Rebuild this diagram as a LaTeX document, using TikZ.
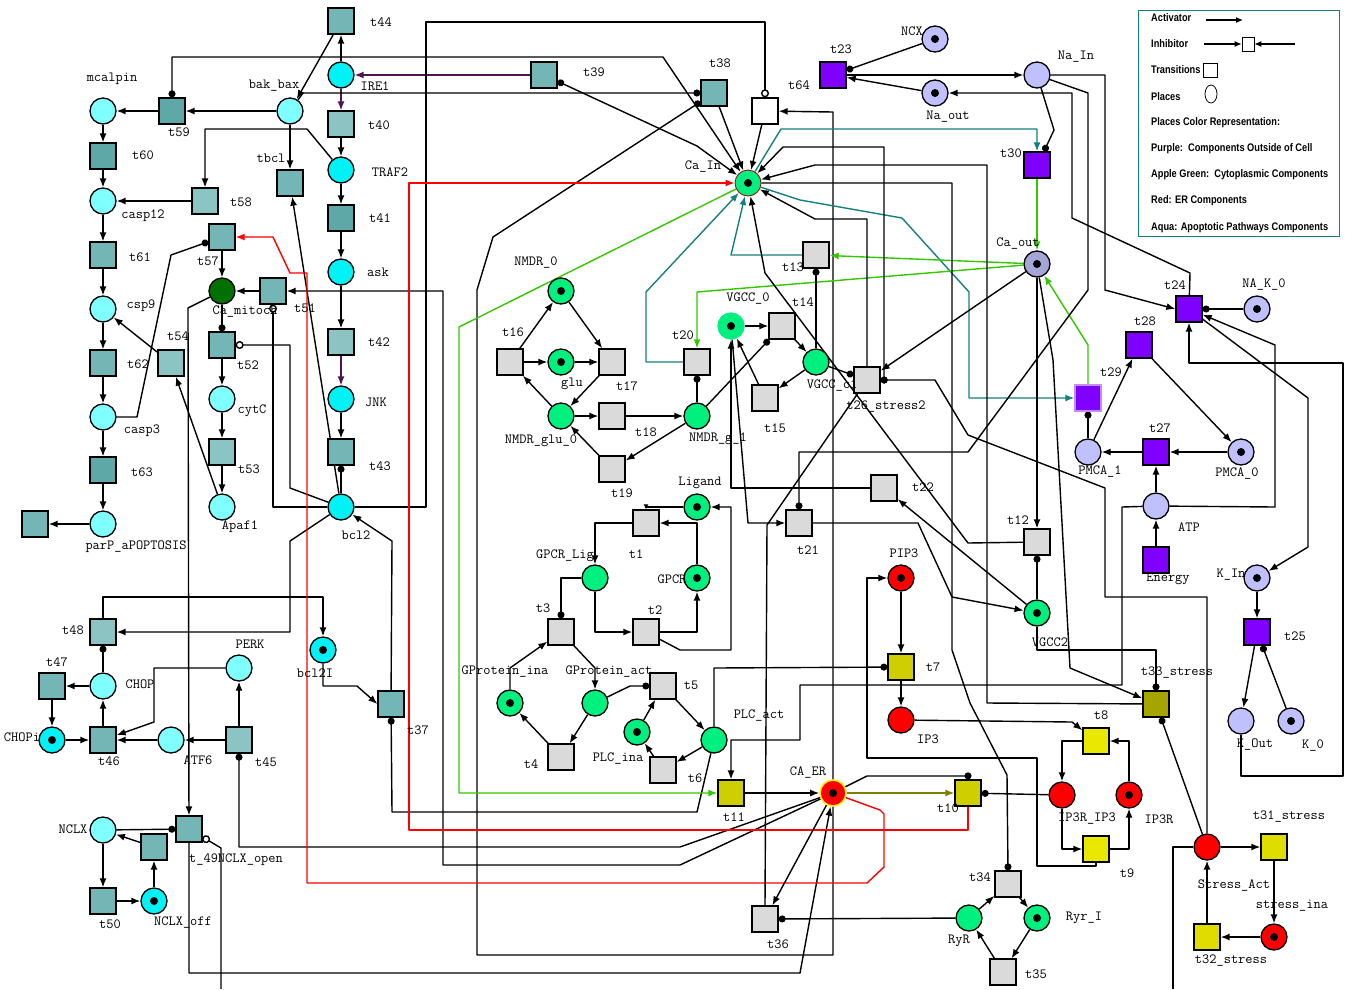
\documentclass[tikz,border=0pt]{standalone}
\usepackage{fontspec}
\usepackage{tikz}
\usetikzlibrary{arrows.meta,shapes.geometric,backgrounds}
\newfontfamily\legfont{Liberation Sans}[FakeStretch=0.84]
\definecolor{aquaL}{RGB}{128,255,255}
\definecolor{aquaD}{RGB}{0,242,245}
\definecolor{tealL}{RGB}{140,196,196}
\definecolor{tealB}{RGB}{116,182,182}
\definecolor{tealD}{RGB}{94,168,168}
\definecolor{mitoG}{RGB}{0,112,0}
\definecolor{appleG}{RGB}{0,240,128}
\definecolor{grayT}{RGB}{218,218,218}
\definecolor{violetT}{RGB}{127,0,255}
\definecolor{lav}{RGB}{192,192,255}
\definecolor{lavD}{RGB}{165,165,215}
\definecolor{erRed}{RGB}{255,0,0}
\definecolor{ylw}{RGB}{232,232,0}
\definecolor{ylwM}{RGB}{222,220,0}
\definecolor{ylwD}{RGB}{206,206,0}
\definecolor{oliveT}{RGB}{165,165,0}
\definecolor{arcTeal}{RGB}{20,128,128}
\definecolor{arcGreen}{RGB}{50,200,0}
\definecolor{arcPurple}{RGB}{80,20,80}
\definecolor{arcOlive}{RGB}{128,128,0}

\tikzset{
  pnode/.style={circle,draw,line width=1.3pt,minimum size=26pt,inner sep=0pt},
  tnode/.style={rectangle,draw,line width=1.3pt,minimum size=26pt,inner sep=0pt},
  token/.style={path picture={\fill[black] (path picture bounding box.center) circle (4pt);}},
  lbl/.style={font=\fontsize{14}{16}\ttfamily,inner sep=0pt},
  legtxt/.style={font=\legfont\bfseries\fontsize{11}{13}\selectfont,anchor=west,inner sep=0pt},
  wire/.style={line width=1.4pt,line join=round},
  actarc/.style={wire,-{Latex[length=9pt,width=7pt]}},
  readarc/.style={wire,-{Circle[length=7pt]}},
  rdarc/.style={wire,{Circle[length=7pt]}-{Latex[length=9pt,width=7pt]}},
  inharc/.style={wire,-{Circle[open,length=8pt]}},
  legarc/.style={line width=1.1pt,-{Latex[length=7pt,width=6pt]}}
}
% label next to a node, offset in pixels (y down)
\newcommand{\plab}[3]{\node[lbl] (#1-l) at ([shift={(#2)}]#1) {#3};}

\begin{document}
\begin{tikzpicture}[x=1pt,y=-1pt]
\useasboundingbox (0,0) rectangle (1346,989);

% ---------------- apoptotic pathway (aqua)
\node[tnode,fill=tealB] (t44) at (341,21) {};
\node[pnode,fill=aquaD] (IRE1) at (341,75) {};
\node[tnode,fill=tealL] (t40) at (341,124) {};
\node[pnode,fill=aquaD] (TRAF2) at (341,170) {};
\node[tnode,fill=tealD] (t41) at (341,218) {};
\node[pnode,fill=aquaD] (ask) at (341,272) {};
\node[tnode,fill=tealL] (t42) at (341,342) {};
\node[pnode,fill=aquaD] (JNK) at (341,399) {};
\node[tnode,fill=tealB] (t43) at (341,452) {};
\node[pnode,fill=aquaD] (bcl2) at (341,507) {};
\node[pnode,fill=aquaL] (mcalpin) at (103,111) {};
\node[tnode,fill=tealD] (t59) at (172,111) {};
\node[pnode,fill=aquaL] (bakbax) at (290,111) {};
\node[tnode,fill=tealD] (t60) at (103,156) {};
\node[tnode,fill=tealB] (tbcl) at (290,183) {};
\node[pnode,fill=aquaL] (casp12) at (103,201) {};
\node[tnode,fill=tealL] (t58) at (205,201) {};
\node[tnode,fill=tealB] (t61) at (103,255) {};
\node[tnode,fill=tealB] (t57) at (222,237) {};
\node[pnode,fill=mitoG] (camito) at (222,291) {};
\node[tnode,fill=tealB] (t51) at (273,291) {};
\node[pnode,fill=aquaL] (csp9) at (103,309) {};
\node[tnode,fill=tealL] (t54) at (171,363) {};
\node[tnode,fill=tealB] (t52) at (222,345) {};
\node[tnode,fill=tealB] (t62) at (103,363) {};
\node[pnode,fill=aquaL] (cytC) at (222,399) {};
\node[pnode,fill=aquaL] (casp3) at (103,417) {};
\node[tnode,fill=tealL] (t53) at (222,452) {};
\node[tnode,fill=tealD] (t63) at (103,470) {};
\node[pnode,fill=aquaL] (Apaf1) at (222,507) {};
\node[pnode,fill=aquaL] (parP) at (103,524) {};
\node[tnode,fill=tealB] (apo) at (35,524) {};
\node[tnode,fill=tealL] (t48) at (103,632) {};
\node[pnode,token,fill=aquaD] (bcl2I) at (323,650) {};
\node[pnode,fill=aquaL] (PERK) at (239,668) {};
\node[tnode,fill=tealB] (t47) at (52,686) {};
\node[pnode,fill=aquaL] (CHOP) at (103,686) {};
\node[tnode,fill=tealB] (t37) at (391,704) {};
\node[pnode,token,fill=aquaD] (CHOPi) at (52,740) {};
\node[tnode,fill=tealB] (t46) at (103,740) {};
\node[pnode,fill=aquaL] (ATF6) at (171,740) {};
\node[tnode,fill=tealL] (t45) at (239,740) {};
\node[pnode,fill=aquaL] (NCLX) at (103,830) {};
\node[tnode,fill=tealB] (t49) at (189,829) {};
\node[tnode,fill=tealB] (ncsq) at (154,847) {};
\node[tnode,fill=tealB] (t50) at (103,901) {};
\node[pnode,token,fill=aquaD] (NCLXoff) at (154,901) {};

\plab{t44}{40,1}{t44}        \plab{IRE1}{34,11}{IRE1}
\plab{t40}{38,1}{t40}        \plab{TRAF2}{49,2}{TRAF2}
\plab{t41}{39,0}{t41}        \plab{ask}{37,0}{ask}
\plab{t42}{38,0}{t42}        \plab{JNK}{35,3}{JNK}
\plab{t43}{39,14}{t43}       \plab{bcl2}{15,28}{bcl2}
\plab{mcalpin}{9,-32}{mcalpin} \plab{t59}{7,21}{t59}
\plab{bakbax}{-16,-25}{bak\_bax} \plab{t60}{40,-1}{t60}
\plab{tbcl}{-19,-25}{tbcl}   \plab{casp12}{40,15}{casp12}
\plab{t58}{36,1}{t58}        \plab{t61}{37,2}{t61}
\plab{t57}{-14,24}{t57}      \plab{camito}{23,21}{Ca\_mitoch}
\plab{t51}{32,17}{t51}       \plab{csp9}{38,-3}{csp9}
\plab{t54}{7,-27}{t54}       \plab{t52}{26,20}{t52}
\plab{t62}{35,1}{t62}        \plab{cytC}{30,12}{cytC}
\plab{casp3}{39,14}{casp3}   \plab{t53}{27,17}{t53}
\plab{t63}{39,2}{t63}        \plab{Apaf1}{18,20}{Apaf1}
\plab{parP}{33,23}{parP\_aPOPTOSIS}
\plab{t48}{-30,-2}{t48}      \plab{bcl2I}{-8,23}{bcl2I}
\plab{PERK}{11,-24}{PERK}    \plab{t47}{5,-24}{t47}
\plab{CHOP}{37,-2}{CHOP}     \plab{t37}{27,26}{t37}
\plab{CHOPi}{-30,-3}{CHOPi}  \plab{t46}{6,21}{t46}
\plab{ATF6}{27,20}{ATF6}     \plab{t45}{27,22}{t45}
\plab{NCLX}{-30,-1}{NCLX}    \plab{t49}{47,31}{t\_49NCLX\_open}
\plab{t50}{7,23}{t50}        \plab{NCLXoff}{29,22}{NCLX\_off}

% ---------------- cytoplasm / ER (green, grey, red, yellow)
\node[pnode,token,fill=appleG,draw=red!60!black,line width=0.8pt] (CaIn) at (748,183) {};
\node[pnode,token,fill=appleG] (NMDR0) at (561,291) {};
\node[tnode,fill=grayT] (t16) at (510,362) {};
\node[pnode,token,fill=appleG] (glu) at (561,362) {};
\node[tnode,fill=grayT] (t17) at (612,362) {};
\node[pnode,fill=appleG] (NMDRglu0) at (561,416) {};
\node[tnode,fill=grayT] (t18) at (612,416) {};
\node[pnode,fill=appleG] (NMDRg1) at (697,416) {};
\node[tnode,fill=grayT] (t19) at (612,469) {};
\node[tnode,fill=grayT] (t20) at (697,362) {};
\node[pnode,token,fill=appleG,draw=appleG] (VGCC0) at (731,326) {};
\node[tnode,fill=grayT] (t14) at (782,326) {};
\node[pnode,fill=appleG] (VGCCc1) at (816,362) {};
\node[tnode,fill=grayT] (t15) at (765,398) {};
\node[tnode,fill=grayT] (t26) at (867,380) {};
\node[tnode,fill=grayT] (t13) at (816,255) {};
\node[pnode,token,fill=appleG] (Ligand) at (697,507) {};
\node[tnode,fill=grayT] (t1) at (646,523) {};
\node[pnode,fill=appleG] (GPCRLig) at (595,578) {};
\node[pnode,token,fill=appleG] (GPCR) at (697,578) {};
\node[tnode,fill=grayT] (t2) at (646,632) {};
\node[tnode,fill=grayT] (t3) at (561,632) {};
\node[pnode,token,fill=appleG] (GPina) at (510,703) {};
\node[pnode,fill=appleG] (GPact) at (595,703) {};
\node[tnode,fill=grayT] (t5) at (663,686) {};
\node[pnode,token,fill=appleG] (PLCina) at (637,732) {};
\node[pnode,fill=appleG] (PLCact) at (714,740) {};
\node[tnode,fill=grayT] (t4) at (561,757) {};
\node[tnode,fill=grayT] (t6) at (663,770) {};
\node[tnode,fill=ylwD] (t11) at (731,793) {};
\node[pnode,token,fill=erRed,draw=yellow,line width=1.6pt] (CAER) at (833,793) {};
\node[tnode,fill=grayT] (t36) at (765,919) {};
\node[tnode,fill=grayT] (t21) at (799,523) {};
\node[tnode,fill=grayT] (t22) at (884,488) {};
\node[tnode,fill=grayT] (t12) at (1037,542) {};
\node[pnode,token,fill=appleG] (VGCC2) at (1037,613) {};
\node[pnode,token,fill=erRed] (PIP3) at (901,578) {};
\node[tnode,fill=ylwD] (t7) at (901,667) {};
\node[pnode,fill=erRed] (IP3) at (901,720) {};
\node[tnode,fill=ylw] (t8) at (1096,741) {};
\node[pnode,fill=erRed] (IP3RIP3) at (1062,795) {};
\node[pnode,token,fill=erRed] (IP3R) at (1129,795) {};
\node[tnode,fill=ylwD] (t10) at (968,793) {};
\node[tnode,fill=ylw] (t9) at (1096,849) {};
\node[tnode,fill=grayT] (t34) at (1008,884) {};
\node[pnode,fill=appleG] (RyR) at (969,918) {};
\node[pnode,token,fill=appleG] (RyrI) at (1037,918) {};
\node[tnode,fill=grayT] (t35) at (1003,972) {};

\plab{CaIn}{-45,-16}{Ca\_In}     \plab{NMDR0}{-25,-28}{NMDR\_0}
\plab{t16}{3,-30}{t16}           \plab{glu}{11,22}{glu}
\plab{t17}{15,24}{t17}           \plab{NMDRglu0}{-20,25}{NMDR\_glu\_0}
\plab{t18}{34,16}{t18}           \plab{NMDRg1}{21,23}{NMDR\_g\_1}
\plab{t19}{10,24}{t19}           \plab{t20}{-14,-27}{t20}
\plab{VGCC0}{17,-27}{VGCC\_0}    \plab{t14}{21,-24}{t14}
\plab{VGCCc1}{16,24}{VGCC\_c1}   \plab{t15}{10,30}{t15}
\plab{t26}{19,27}{t26\_stress2}  \plab{t13}{-23,12}{t13}
\plab{Ligand}{3,-24}{Ligand}     \plab{t1}{-10,31}{t1}
\plab{GPCRLig}{-30,-22}{GPCR\_Lig} \plab{GPCR}{-25,1}{GPCR}
\plab{t2}{9,-22}{t2}             \plab{t3}{-18,-24}{t3}
\plab{GPina}{-5,-31}{GProtein\_ina} \plab{GPact}{14,-31}{GProtein\_act}
\plab{t5}{28,-1}{t5}             \plab{PLCina}{-19,27}{PLC\_ina}
\plab{PLCact}{45,-24}{PLC\_act}  \plab{t4}{-30,7}{t4}
\plab{t6}{32,8}{t6}              \plab{t11}{3,24}{t11}
\plab{CAER}{-25,-20}{CA\_ER}     \plab{t36}{13,25}{t36}
\plab{t21}{9,27}{t21}            \plab{t22}{39,-1}{t22}
\plab{t12}{-19,-22}{t12}         \plab{VGCC2}{13,29}{VGCC2}
\plab{PIP3}{3,-25}{PIP3}         \plab{t7}{32,0}{t7}
\plab{IP3}{27,19}{IP3}           \plab{t8}{5,-26}{t8}
\plab{IP3RIP3}{25,24}{IP3R\_IP3} \plab{IP3R}{30,24}{IP3R}
\plab{t10}{-20,15}{t10}          \plab{t9}{31,24}{t9}
\plab{t34}{-28,-7}{t34}          \plab{RyR}{-10,23}{RyR}
\plab{RyrI}{47,0}{Ryr\_I}        \plab{t35}{33,2}{t35}

% ---------------- outside of cell (purple / lavender)
\node[pnode,token,fill=lav] (NCX) at (935,39) {};
\node[tnode,fill=violetT] (t23) at (833,75) {};
\node[pnode,token,fill=lav] (Naout) at (935,93) {};
\node[tnode,fill=white] (t64) at (765,111) {};
\node[pnode,fill=lav] (NaIn) at (1037,75) {};
\node[tnode,fill=tealB] (t38) at (714,93) {};
\node[tnode,fill=tealB] (t39) at (544,75) {};
\node[tnode,fill=violetT] (t30) at (1037,165) {};
\node[pnode,token,fill=lavD] (Caout) at (1037,264) {};
\node[tnode,fill=violetT] (t24) at (1189,309) {};
\node[pnode,token,fill=lav] (NAK0) at (1257,309) {};
\node[tnode,fill=violetT] (t28) at (1139,345) {};
\node[tnode,fill=violetT,draw=violetT!45] (t29) at (1088,398) {};
\node[pnode,fill=lav] (PMCA1) at (1088,452) {};
\node[tnode,fill=violetT] (t27) at (1156,452) {};
\node[pnode,token,fill=lav] (PMCA0) at (1241,452) {};
\node[pnode,fill=lav] (ATP) at (1156,506) {};
\node[tnode,fill=violetT] (Energy) at (1156,560) {};
\node[pnode,token,fill=lav] (KIn) at (1257,578) {};
\node[tnode,fill=violetT] (t25) at (1257,632) {};
\node[pnode,fill=lav] (KOut) at (1241,721) {};
\node[pnode,token,fill=lav] (K0) at (1291,721) {};
\node[tnode,fill=oliveT] (t33) at (1156,704) {};
\node[pnode,fill=erRed] (StressAct) at (1207,847) {};
\node[tnode,fill=ylwM] (t31) at (1274,847) {};
\node[pnode,token,fill=erRed] (stressina) at (1274,937) {};
\node[tnode,fill=ylwM] (t32) at (1207,937) {};

\plab{NCX}{-23,-8}{NCX}          \plab{t23}{8,-26}{t23}
\plab{Naout}{13,24}{Na\_out}     \plab{t64}{34,-26}{t64}
\plab{NaIn}{39,-18}{Na\_In}      \plab{t38}{6,-30}{t38}
\plab{t39}{50,-3}{t39}           \plab{t30}{-26,-12}{t30}
\plab{Caout}{-19,-20}{Ca\_out}   \plab{t24}{-14,-24}{t24}
\plab{NAK0}{7,-24}{NA\_K\_0}     \plab{t28}{6,-24}{t28}
\plab{t29}{23,-26}{t29}          \plab{PMCA1}{12,20}{PMCA\_1}
\plab{t27}{4,-24}{t27}           \plab{PMCA0}{-4,22}{PMCA\_0}
\plab{ATP}{33,21}{ATP}           \plab{Energy}{12,19}{Energy}
\plab{KIn}{-26,-3}{K\_In}        \plab{t25}{38,4}{t25}
\plab{KOut}{14,24}{K\_Out}       \plab{K0}{22,25}{K\_0}
\plab{t33}{21,-31}{t33\_stress}  \plab{StressAct}{27,39}{Stress\_Act}
\plab{t31}{15,-30}{t31\_stress}  \plab{stressina}{18,-31}{stress\_ina}
\plab{t32}{24,24}{t32\_stress}

\coordinate (e49) at (221,989);
\coordinate (eSA) at (1173,989);

% ---------------- arcs
\begin{scope}[on background layer]
  % apoptotic chains
  \foreach \a/\b in {mcalpin/t60,t60/casp12,casp12/t61,t61/csp9,csp9/t62,t62/casp3,
                     casp3/t63,t63/parP,parP/apo,IRE1/t44,t44/bakbax,t40/TRAF2,
                     TRAF2/t41,t41/ask,ask/t42,JNK/t43,bakbax/t59,t59/mcalpin,
                     t58/casp12,bakbax/tbcl,bcl2/tbcl,t57/camito,t51/camito,
                     t52/cytC,cytC/t53,t53/Apaf1,t54/csp9,Apaf1/t54,
                     t46/CHOP,CHOP/t47,t47/CHOPi,CHOPi/t46,ATF6/t46,t45/ATF6,
                     t45/PERK,ncsq/NCLX,NCLX/t50,t50/NCLXoff,NCLXoff/ncsq}
    \draw[actarc] (\a) -- (\b);
  \draw[actarc,arcPurple] (IRE1) -- (t40);
  \draw[actarc,arcPurple] (t42) -- (JNK);
  \draw[actarc,arcPurple] (t39) -- (IRE1);
  \foreach \a/\b in {bcl2/t43,camito/t52,CHOP/t48,NCLX/t49}
    \draw[readarc] (\a) -- (\b);
  \draw[actarc] (TRAF2) -- (307,129) -- (205,129) -- (t58);
  \draw[readarc] (casp3) -- (137,417) -- (171,255) -- (t57);
  \draw[inharc] (bcl2) -| (t51);
  \draw[inharc] (bcl2) -- (290,488) -- (290,345) -- (t52);
  \draw[actarc] (bcl2) -- (290,541) -- (290,632) -- (t48);
  \draw[actarc] (t37) -- (392,541) -- (bcl2);
  \draw[readarc] (PLCact) -- (697,812) -- (392,812) -- (t37);
  \draw[actarc] (bcl2I) -- (323,686) -- (357,686) -- (t37.west);
  \draw[actarc] (t48) -- (103,597) -| (bcl2I);
  \draw[actarc] (PERK) -- (154,668) -- (154,722) -- (t46);
  \draw[actarc] (camito) -- (188,308) -- (t49);
  \draw[inharc] (e49) -- (221,848) -- (t49);
  \draw[actarc] (t49) -- (189,973) -- (800,973) -- (CAER);
  \draw[readarc] (CAER) -- (680,847) -- (239,847) -- (t45);
  \draw[actarc] (CAER) -- (680,865) -- (443,865) -- (443,291) -- (t51);
  \draw[inharc] (bcl2) -- (426,507) -- (426,22) -- (765,22) -- (t64);
  \draw[rdarc] (t59) -- (172,57) -- (663,57) -- (CaIn);
  \draw[readarc] (bakbax) -- (303,93) -- (t38);
  \draw[rdarc] (t39) -- (697,146) -- (CaIn);
  \draw[actarc] (t38) -- (CaIn);
  \draw[actarc] (t64) -- (CaIn);
  \draw[rdarc] (t38) -- (493,237) -- (477,290) -- (477,955) -- (833,955) -- (833,112) -- (t64);
  % red calcium routes
  \draw[actarc,erRed] (t10) -- (968,830) -- (409,830) -- (409,183) -- (CaIn);
  \draw[actarc,erRed] (CAER) -- (880,810) -- (884,814) -- (884,867) -- (867,883)
        -- (307,883) -- (307,273) -- (290,273) -- (273,237) -- (t57);
  % teal and green calcium routes
  \draw[actarc,arcTeal] (CaIn) -- (781,129) -- (1037,129) -- (t30);
  \draw[actarc,arcTeal] (CaIn) -- (800,200) -- (902,218) -- (969,292) -- (969,398) -- (t29);
  \draw[actarc,arcTeal] (t13) -- (731,255) -- (CaIn);
  \draw[actarc,arcTeal] (t20) -- (646,362) -- (646,292) -- (CaIn);
  \draw[actarc,arcGreen] (Caout) -- (t13);
  \draw[actarc,arcGreen] (Caout) -- (697,292) -- (t20);
  \draw[actarc,arcGreen] (CaIn) -- (459,327) -- (459,793) -- (t11);
  \draw[actarc,arcGreen] (t30) -- (Caout);
  \draw[actarc,arcGreen] (t29) -- (1088,345) -- (Caout);
  \draw[actarc,arcOlive] (CAER) -- (t10);
  % black routes around Ca_In
  \draw[actarc] (t26) -- (867,219) -- (815,219) -- (CaIn);
  \draw[rdarc] (t26.east) -| (884,147) -- (783,147) -- (CaIn);
  \draw[readarc] (StressAct) -- (1207,597) -- (1105,597) -- (1105,488) -- (968,435) -- (935,380) -- (t26.east);
  \draw[actarc] (t33) -- (987,703) -- (987,165) -- (815,165) -- (CaIn);
  \draw[readarc] (CaIn) -- (952,183) -- (952,650) -- (970,703) -- (1007,775) -- (t34.north);
  \draw[actarc] (t12) -- (968,543) -- (765,273) -- (CaIn);
  \draw[actarc] (Caout) -- (t12);
  \draw[readarc] (VGCC2) -- (t12);
  \draw[actarc] (VGCC2) -- (t22);
  \draw[actarc] (t21) -- (918,523) -- (952,597) -- (VGCC2);
  \draw[actarc] (t22) -- (731,488) -- (VGCC0);
  \draw[actarc] (VGCC0) -- (748,523) -- (t21);
  \foreach \a/\b in {t15/VGCC0,VGCC0/t14,t14/VGCCc1,VGCCc1/t15,Caout/t26}
    \draw[actarc] (\a) -- (\b);
  \foreach \a/\b in {VGCCc1/t26,VGCCc1/t13,NMDRg1/t14,NMDRg1/t20}
    \draw[readarc] (\a) -- (\b);
  \draw[wire] (t26) -- (767,525) -- (t36.north);
  % sodium / potassium pumps
  \draw[readarc] (NaIn) -- (1088,93) -- (1088,290) -- (968,452) -- (799,452) -- (t21);
  \draw[actarc] (NaIn) -- (1105,75) -- (1105,290) -- (t24.west);
  \draw[actarc] (t24) -- (1190,273) -- (1072,218) -- (1072,93) -- (Naout);
  \draw[readarc] (NCX) -- (t23);
  \draw[actarc] (Naout) -- (t23);
  \draw[actarc] (t23) -- (NaIn);
  \draw[readarc] (NaIn) -- (1054,130) -- ([xshift=7pt]t30.north);
  \draw[readarc] (NAK0) -- (t24);
  \draw[actarc] (t24) -- (1308,398) -- (1308,547) -- (KIn);
  \draw[actarc] (KIn) -- (t25);
  \draw[actarc] (t25) -- (KOut);
  \draw[readarc] (K0) -- (t25);
  \draw[actarc] (KOut) -- (1241,776) -- (1343,776) -- (1343,363) -- (1189,363) -- (t24);
  \draw[actarc] (ATP) -- (1275,507) -- (1275,345) -- (t24);
  \foreach \a/\b in {PMCA1/t28,t28/PMCA0,PMCA0/t27,t27/PMCA1,ATP/t27,Energy/ATP}
    \draw[actarc] (\a) -- (\b);
  \draw[readarc] (PMCA1) -- (t29);
  \draw[actarc] (ATP) -- (1122,507) -- (1122,685) -- (800,685) -- (800,740) -- (731,740) -- (t11);
  % IP3 / ER
  \draw[readarc] (PLCact) -- (714,668) -- (t7);
  \draw[actarc] (PIP3) -- (t7);
  \draw[actarc] (t7) -- (IP3);
  \draw[actarc] (IP3) -- (1072,722) -- (t8);
  \draw[actarc] (t8) -| (IP3RIP3);
  \draw[actarc] (IP3R) |- (t8);
  \draw[actarc] (IP3RIP3) |- (t9);
  \draw[actarc] (t9) -| (IP3R);
  \draw[readarc] (IP3RIP3) -- (t10);
  \draw[readarc] (CAER) -- (867,776) -- (968,776) -- (t10);
  \draw[actarc] (t9.south) -- (1096,866) -- (1037,866) -- (1037,758) -- (867,758) -- (867,578) -- (PIP3);
  \draw[actarc] (t11) -- (CAER);
  \draw[actarc] (CAER) -- (t36);
  \draw[readarc] (RyR) -- (t36);
  \foreach \a/\b in {RyR/t34,t34/RyrI,RyrI/t35,t35/RyR}
    \draw[actarc] (\a) -- (\b);
  % stress
  \draw[readarc] (VGCC2) -- (1037,650) -- (1156,650) -- (t33);
  \draw[actarc] (Caout) -- (1053,360) -- (1070,668) -- (t33);
  \draw[readarc] (StressAct) -- (t33);
  \foreach \a/\b in {StressAct/t31,t31/stressina,stressina/t32,t32/StressAct}
    \draw[actarc] (\a) -- (\b);
  \draw[wire] (StressAct) -- (1173,847) -- (eSA);
  % ligand / G protein / PLC
  \foreach \a/\b in {NMDR0/t17,t16/NMDR0,t16/glu,glu/t17,t17/NMDRglu0,NMDRglu0/t16,
                     NMDRglu0/t18,t18/NMDRg1,NMDRg1/t19,t19/NMDRglu0,
                     GPact/t4,t4/GPina,t5/PLCact,PLCina/t5,PLCact/t6,t6/PLCina}
    \draw[actarc] (\a) -- (\b);
  \draw[wire,-{Latex[length=5pt,width=5pt]}] (Ligand) -| (t1);
  \draw[actarc] (GPCR) |- (t1);
  \draw[actarc] (t1) -| (GPCRLig);
  \draw[actarc] (GPCRLig) |- (t2);
  \draw[actarc] (t2) -| (GPCR);
  \draw[actarc] (t2) -- (680,650) -- (731,650) -- (731,507) -- (Ligand);
  \draw[readarc] (GPCRLig) -| (t3);
  \draw[actarc] (GPina) -- (510,668) -- (t3);
  \draw[actarc] (t3) -- (595,668) -- (GPact);
  \draw[readarc] (GPact) -- (630,686) -- (t5);
\end{scope}

% ---------------- legend
\node[draw=arcTeal,line width=1.2pt,minimum width=201pt,minimum height=226pt,
      anchor=north west,inner sep=0pt] (legend) at (1138,10) {};
\foreach \y/\txt/\nm in {18/Activator/lg1,44/Inhibitor/lg2,70/Transitions/lg3,
    97/Places/lg4,123/Places Color Representation:/lg5,
    149/Purple:\ \ Components Outside of Cell/lg6,
    175/Apple Green:\ \ Cytoplasmic Components/lg7,
    201/Red: ER Components/lg8,228/Aqua: Apoptotic Pathways Components/lg9}
  \node[legtxt] (\nm) at (1151,\y) {\txt};
\coordinate (la1) at (1206,20);
\coordinate (la2) at (1243,20);
\draw[legarc] (la1) -- (la2);
\node[draw,line width=0.8pt,minimum width=12pt,minimum height=14pt,inner sep=0pt] (lginh) at (1248,44) {};
\coordinate (lb1) at (1204,44);
\coordinate (lb2) at (1295,44);
\draw[legarc] (lb1) -- (lginh);
\draw[legarc] (lb2) -- (lginh);
\node[draw,line width=0.8pt,minimum size=14pt,inner sep=0pt] (lgtr) at (1210,70) {};
\node[draw,line width=0.8pt,ellipse,minimum width=12pt,minimum height=18pt,inner sep=0pt] (lgpl) at (1211,94) {};
\end{tikzpicture}
\end{document}
